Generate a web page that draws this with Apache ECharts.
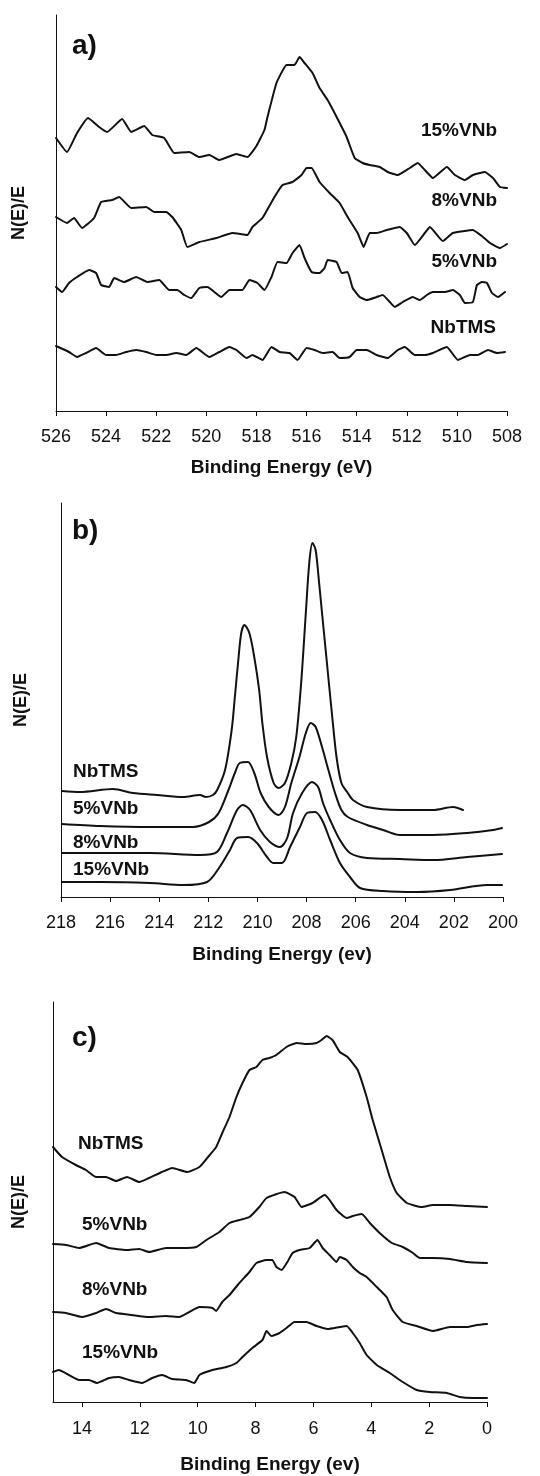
<!DOCTYPE html>
<html>
<head>
<meta charset="utf-8">
<script src="https://cdn.jsdelivr.net/npm/echarts@6/dist/echarts.min.js"></script>
<style>
html,body{margin:0;padding:0;background:#fff;}
#chart{width:540px;height:1476px;}
</style>
</head>
<body>
<div id="chart"></div>
<script>
// ---------- Panel a) : V 2p region (eV), intensity in arbitrary units ----------
const a_15VNb_eV = [526.0,525.56,525.16,524.72,524.28,523.96,523.36,523.0,522.48,522.16,521.68,521.28,520.68,520.28,519.88,519.48,518.8,518.36,518.0,517.68,517.56,517.2,516.8,516.48,516.28,516.08,515.76,515.48,515.16,514.8,514.4,514.08,513.76,513.48,513.08,512.76,512.36,511.88,511.56,511.28,510.96,510.4,510.08,509.68,509.36,508.88,508.56,508.28,508.0];
const a_15VNb_int = [273,259,278,293,284,279,292,279,285,276,273,258,259,254,256,251,257,254,265,281,294,328,346,346,354,348,338,323,311,294,274,253,248,246,244,239,236,243,248,241,233,244,236,231,236,239,233,224,223];
const a_8VNb_eV = [526.0,525.56,525.28,524.96,524.48,524.2,523.76,523.48,523.0,522.4,522.08,521.6,521.36,521.0,520.76,520.28,519.6,518.96,518.36,518.16,517.76,517.28,516.96,516.56,516.2,516.0,515.8,515.48,515.08,514.68,514.36,513.96,513.72,513.48,513.2,512.8,512.28,512.0,511.68,511.28,511.08,510.56,510.16,509.36,508.96,508.68,508.28,508.0];
const a_8VNb_int = [194,188,193,183,193,209,211,214,203,204,199,199,194,181,164,169,173,178,176,184,193,214,226,229,236,243,243,229,218,208,194,178,164,178,178,181,184,178,166,178,184,170,178,181,174,168,163,167];
const a_5VNb_eV = [526.0,525.76,525.48,525.16,524.68,524.4,524.2,523.88,523.68,523.28,522.8,522.36,521.88,521.48,521.16,520.88,520.6,520.28,519.96,519.4,519.08,518.56,518.28,517.96,517.68,517.4,517.16,516.8,516.56,516.28,516.08,515.8,515.48,515.28,515.16,514.8,514.6,514.36,514.16,513.88,513.6,513.2,512.96,512.68,512.48,512.16,511.76,511.48,511.2,510.96,510.48,510.16,509.88,509.68,509.36,509.2,509.0,508.8,508.6,508.36,508.08];
const a_5VNb_int = [124,119,128,134,141,138,126,124,133,129,134,129,131,121,121,116,113,123,124,114,121,121,131,128,121,134,149,148,158,166,153,139,138,143,151,149,138,139,123,114,111,114,116,109,104,109,114,111,116,119,119,121,116,108,109,126,129,128,118,114,119];
const a_NbTMS_eV = [526.0,525.48,525.16,524.8,524.4,524.0,523.6,523.2,522.8,522.4,522.0,521.6,521.2,520.8,520.4,519.88,519.48,519.08,518.8,518.4,518.16,517.76,517.4,517.08,516.68,516.36,516.0,515.68,515.36,514.96,514.68,514.28,514.0,513.6,513.2,512.76,512.36,512.08,511.68,511.28,510.96,510.4,509.96,509.48,509.16,508.76,508.4,508.08];
const a_NbTMS_int = [65,59,54,58,63,56,56,59,61,59,56,56,58,56,63,54,59,64,61,53,56,51,64,59,58,51,63,61,58,59,53,54,61,61,56,53,61,64,56,56,58,64,51,56,56,61,58,59];

// ---------- Panel b) : Nb 3d region (ev) ----------
const b_NbTMS_eV = [217.96,217.23,215.88,215.07,214.09,213.03,212.34,212.1,211.81,211.64,211.32,211.05,210.92,210.79,210.66,210.53,210.33,210.13,209.93,209.8,209.61,209.34,209.14,208.88,208.62,208.42,208.22,208.03,207.89,207.76,207.63,207.5,207.37,207.17,206.97,206.78,206.58,206.32,206.11,205.54,204.19,202.85,202.03,201.63];
const b_NbTMS_int = [106,105,108,104,102,100,102,100,102,107,127,167,200,234,264,272,264,240,207,174,140,114,109,114,134,160,214,284,334,354,347,317,284,234,184,140,114,104,97,90,87,87,90,87];
const b_5VNb_eV = [217.96,216.41,214.37,212.63,211.97,211.58,211.18,210.92,210.72,210.39,210.13,209.87,209.54,209.14,208.88,208.62,208.29,208.03,207.83,207.63,207.37,207.11,206.84,206.58,206.32,205.54,204.88,204.19,202.85,201.46,200.4,200.04];
const b_5VNb_int = [73,71,70,70,75,84,107,124,134,135,124,104,90,82,90,114,140,164,174,170,150,127,104,87,80,72,67,62,62,64,67,69];
const b_8VNb_eV = [217.96,216.41,214.37,212.34,211.65,211.24,210.83,210.59,210.3,209.89,209.49,209.08,208.79,208.55,208.18,207.78,207.53,207.33,207.04,206.64,206.23,205.54,204.19,202.85,201.46,200.04];
const b_8VNb_int = [44,44,44,42,45,64,87,92,87,67,55,50,59,84,104,115,110,94,77,57,44,39,38,37,40,43];
const b_15VNb_eV = [217.96,216.41,214.37,213.03,212.05,211.54,211.12,210.83,210.38,210.02,209.61,209.36,209.0,208.67,208.27,207.98,207.65,207.37,207.04,206.64,206.23,205.82,204.88,203.5,202.15,200.65,200.04];
const b_15VNb_int = [15,15,14,12,15,30,47,59,60,54,40,34,34,50,70,84,85,77,57,34,20,9,6,5,7,12,12];

// ---------- Panel c) : valence band region (ev) ----------
const c_NbTMS_eV = [15.0,14.69,14.21,13.86,13.51,13.17,12.82,12.44,12.02,11.68,11.23,10.88,10.36,9.94,9.67,9.36,9.15,8.9,8.66,8.45,8.21,7.97,7.76,7.52,7.28,6.93,6.58,6.24,5.89,5.72,5.54,5.34,5.09,4.82,4.47,4.16,3.95,3.64,3.36,3.12,2.77,2.25,1.87,1.28,0.69,0];
const c_NbTMS_int = [255,245,237,232,225,225,221,225,220,224,230,234,230,235,244,255,269,285,305,319,332,335,342,344,347,355,359,358,359,362,366,362,350,345,332,305,282,252,225,209,199,195,197,197,196,195];
const c_5VNb_eV = [15.0,14.55,14.1,13.51,13.06,12.47,12.02,11.68,11.09,10.53,10.05,9.7,9.25,8.9,8.56,8.21,7.87,7.62,7.0,6.65,6.41,6.03,5.61,5.44,5.2,4.85,4.64,4.33,4.05,3.71,3.29,2.91,2.56,2.32,1.87,1.28,0.69,0];
const c_5VNb_int = [158,157,154,159,154,152,153,150,154,154,155,162,170,179,182,185,195,204,210,205,195,199,207,202,192,184,186,188,179,169,159,155,149,144,144,143,140,139];
const c_8VNb_eV = [15.0,14.55,14.0,13.51,13.17,12.82,12.27,11.68,11.09,10.64,10.29,9.94,9.49,9.36,9.15,8.9,8.56,8.21,7.97,7.62,7.42,7.28,7.1,6.9,6.72,6.48,6.13,5.86,5.68,5.44,5.2,5.09,4.85,4.64,4.4,4.16,3.81,3.47,3.26,2.91,2.43,1.87,1.28,0.69,0.35,0];
const c_8VNb_int = [90,89,85,89,93,89,87,85,86,85,90,95,94,91,100,107,119,130,139,142,142,135,132,140,149,152,154,162,154,147,140,145,142,135,129,125,115,105,92,80,76,71,75,75,77,78];
const c_15VNb_eV = [15.0,14.8,14.45,14.1,13.76,13.48,13.06,12.72,12.37,11.92,11.57,11.23,10.88,10.4,10.12,9.94,9.49,9.01,8.66,8.45,8.11,7.76,7.62,7.45,7.17,6.93,6.65,6.24,5.89,5.51,5.09,4.85,4.64,4.4,4.16,3.81,3.36,2.91,2.43,1.98,1.39,0.94,0.49,0];
const c_15VNb_int = [30,32,27,22,22,19,24,25,22,19,24,27,23,22,19,27,32,35,39,45,54,62,71,66,69,74,80,80,76,73,75,76,69,59,47,37,29,20,12,10,9,5,4,4];

// ---------- Texts ----------
const panelTags = ['a)', 'b)', 'c)'];
const xAxisTitles = ['Binding Energy (eV)', 'Binding Energy (ev)', 'Binding Energy (ev)'];
const yAxisTitle = 'N(E)/E';
const sampleNames = ['15%VNb', '8%VNb', '5%VNb', 'NbTMS'];

const FONT = '"Liberation Sans", Arial, Helvetica, sans-serif';
const zip = (xs, ys) => xs.map((x, i) => [x, ys[i]]);

const chart = echarts.init(document.getElementById('chart'), null, {renderer: 'canvas'});

const grids = [
  {left: 56, top: 15, width: 451, height: 396},
  {left: 61, top: 503, width: 442, height: 394},
  {left: 53, top: 1002, width: 434, height: 400}
];
const xRanges = [[508, 526], [200, 218], [0, 15]];
const nameGapsX = [47, 48, 53];
const nameGapsY = [28, 31, 25];
const yMax = [396, 394, 400];
const smoothness = [0.12, 0.3, 0.15];

const xAxes = grids.map((g, i) => ({
  type: 'value', gridIndex: i, inverse: true,
  min: xRanges[i][0], max: xRanges[i][1], interval: 2,
  name: xAxisTitles[i], nameLocation: 'middle', nameGap: nameGapsX[i],
  nameTextStyle: {fontFamily: FONT, fontWeight: 'bold', fontSize: 19, color: '#111'},
  axisLine: {show: true, onZero: false, lineStyle: {color: '#111', width: 1}},
  axisTick: {show: true, inside: false, length: 5, lineStyle: {color: '#111', width: 1}},
  axisLabel: {show: true, margin: i === 2 ? 18 : 17, fontFamily: FONT, fontSize: 18, color: '#111',
              showMaxLabel: i !== 2},
  splitLine: {show: false}
}));
const yAxes = grids.map((g, i) => ({
  type: 'value', gridIndex: i, min: 0, max: yMax[i],
  name: yAxisTitle, nameLocation: 'middle', nameRotate: 90, nameGap: nameGapsY[i],
  nameTextStyle: {fontFamily: FONT, fontWeight: 'bold', fontSize: 18, color: '#111'},
  axisLine: {show: true, onZero: false, lineStyle: {color: '#111', width: 1}},
  axisTick: {show: false}, axisLabel: {show: false}, splitLine: {show: false}
}));

function line(name, idx, data) {
  return {
    name: name, type: 'line', xAxisIndex: idx, yAxisIndex: idx, data: data,
    showSymbol: false, symbol: 'none', smooth: smoothness[idx], silent: true,
    lineStyle: {color: '#111', width: 2, join: 'round', cap: 'round'}, animation: false
  };
}

const series = [
  line('15%VNb', 0, zip(a_15VNb_eV, a_15VNb_int)),
  line('8%VNb', 0, zip(a_8VNb_eV, a_8VNb_int)),
  line('5%VNb', 0, zip(a_5VNb_eV, a_5VNb_int)),
  line('NbTMS', 0, zip(a_NbTMS_eV, a_NbTMS_int)),
  line('NbTMS', 1, zip(b_NbTMS_eV, b_NbTMS_int)),
  line('5%VNb', 1, zip(b_5VNb_eV, b_5VNb_int)),
  line('8%VNb', 1, zip(b_8VNb_eV, b_8VNb_int)),
  line('15%VNb', 1, zip(b_15VNb_eV, b_15VNb_int)),
  line('NbTMS', 2, zip(c_NbTMS_eV, c_NbTMS_int)),
  line('5%VNb', 2, zip(c_5VNb_eV, c_5VNb_int)),
  line('8%VNb', 2, zip(c_8VNb_eV, c_8VNb_int)),
  line('15%VNb', 2, zip(c_15VNb_eV, c_15VNb_int))
];

const tagStyle = {fontFamily: FONT, fontWeight: 'bold', fontSize: 28, fill: '#111'};
const lblStyle = {fontFamily: FONT, fontWeight: 'bold', fontSize: 19, fill: '#111'};
function txt(t, x, y, align, style) {
  return {type: 'text', x: x, y: y, silent: true,
          style: Object.assign({text: t, textAlign: align, textVerticalAlign: 'middle'}, style)};
}

const graphics = [
  txt(panelTags[0], 72, 46, 'left', tagStyle),
  txt(panelTags[1], 72, 531, 'left', tagStyle),
  txt(panelTags[2], 72, 1038, 'left', tagStyle),
  // panel a labels (right aligned)
  txt(sampleNames[0], 497, 131, 'right', lblStyle),
  txt(sampleNames[1], 497, 201, 'right', lblStyle),
  txt(sampleNames[2], 497, 262, 'right', lblStyle),
  txt(sampleNames[3], 496, 328, 'right', lblStyle),
  // panel b labels
  txt(sampleNames[3], 73, 772, 'left', lblStyle),
  txt(sampleNames[2], 73, 809, 'left', lblStyle),
  txt(sampleNames[1], 73, 843, 'left', lblStyle),
  txt(sampleNames[0], 73, 870, 'left', lblStyle),
  // panel c labels
  txt(sampleNames[3], 78, 1144, 'left', lblStyle),
  txt(sampleNames[2], 82, 1225, 'left', lblStyle),
  txt(sampleNames[1], 82, 1290, 'left', lblStyle),
  txt(sampleNames[0], 82, 1353, 'left', lblStyle)
];

chart.setOption({
  backgroundColor: '#fff',
  animation: false,
  grid: grids,
  xAxis: xAxes,
  yAxis: yAxes,
  series: series,
  graphic: graphics
});
</script>
</body>
</html>
